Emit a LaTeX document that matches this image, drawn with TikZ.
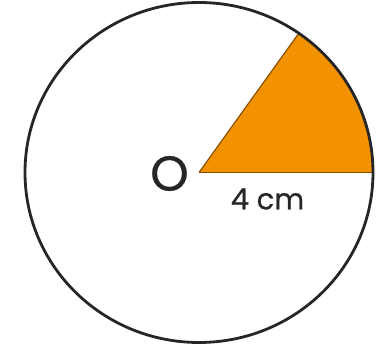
\documentclass[tikz,border=0pt]{standalone}
\usepackage{fontspec}
\usetikzlibrary{calc}
\setmainfont[FakeBold=0.7]{Poppins}
\definecolor{sectorfill}{HTML}{F39200}
\definecolor{sectoredge}{HTML}{8A5200}
\begin{document}
\begin{tikzpicture}[x=1pt,y=-1pt,
  rim/.style={draw=black!85,line width=2.8pt},
  edge/.style={sectoredge,line width=1.2pt},
  lbl/.style={inner sep=0pt,text=black!85}]
\useasboundingbox (0,0) rectangle (378,350);
\coordinate (O) at (199,172.5);
\coordinate (A) at ($(O)+(174,0)$);
\coordinate (B) at ($(O)+({174*cos(55)},{-170*sin(55)})$);
\fill[sectorfill] (O) -- (A) arc[start angle=0,end angle=-55,x radius=174,y radius=170] -- cycle;
\draw[edge] (O) -- (A);
\draw[edge] (O) -- (B);
\draw[rim] (O) ellipse[x radius=174,y radius=170];
\node[lbl,font=\fontsize{49}{49}\selectfont] (olbl) at (169.5,173.5) {O};
\node[lbl,font=\fontsize{29}{29}\selectfont] (rlbl) at (267.5,199) {4 cm};
\end{tikzpicture}
\end{document}
